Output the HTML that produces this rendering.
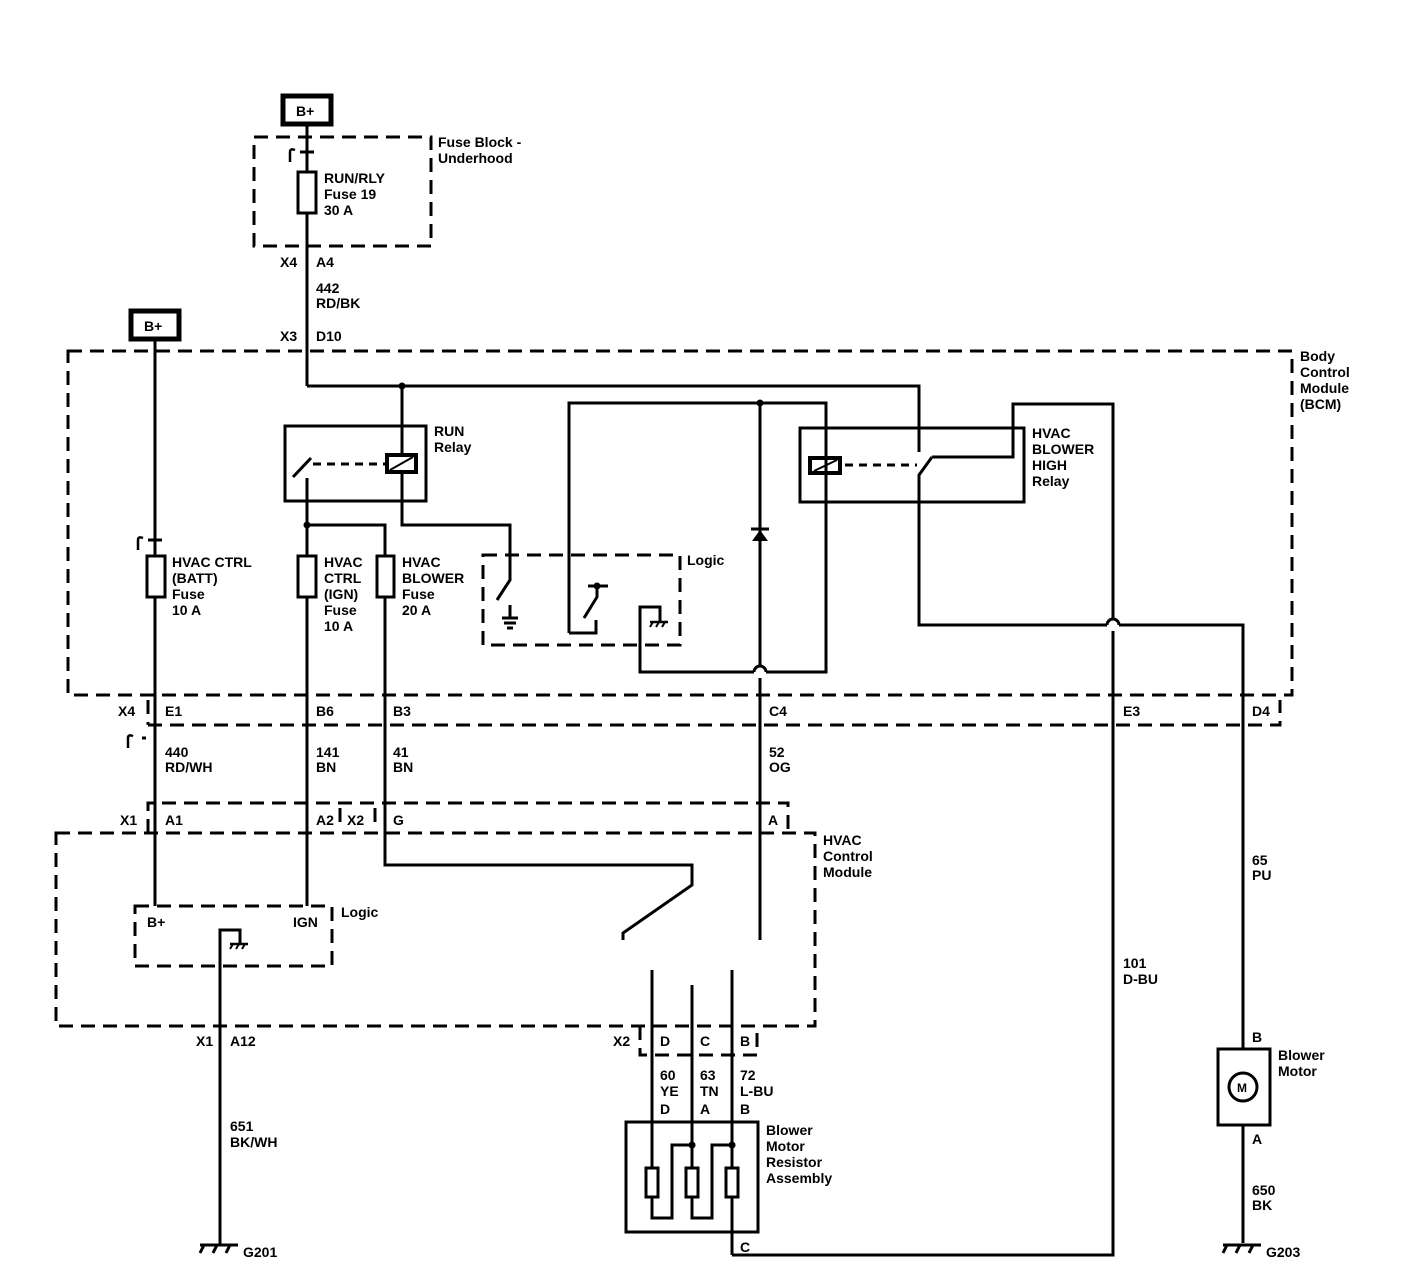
<!DOCTYPE html>
<html><head><meta charset="utf-8"><style>
html,body{margin:0;padding:0;background:#fff;}
svg{display:block;}
text{font-family:"Liberation Sans",Arial,sans-serif;font-size:14px;font-weight:bold;fill:#000;}
</style></head><body>
<svg width="1408" height="1280" viewBox="0 0 1408 1280" xmlns="http://www.w3.org/2000/svg">
<defs>
<g id="gnd"><line x1="-20" y1="0" x2="18" y2="0" stroke="#000" stroke-width="3"/>
<line x1="-16" y1="0" x2="-20" y2="8" stroke="#000" stroke-width="3"/>
<line x1="-3" y1="0" x2="-7" y2="8" stroke="#000" stroke-width="3"/>
<line x1="10" y1="0" x2="6" y2="8" stroke="#000" stroke-width="3"/></g>
<g id="cg"><line x1="-8" y1="0" x2="10" y2="0" stroke="#000" stroke-width="2.5"/>
<line x1="-5" y1="0" x2="-8" y2="5" stroke="#000" stroke-width="2"/>
<line x1="1" y1="0" x2="-2" y2="5" stroke="#000" stroke-width="2"/>
<line x1="7" y1="0" x2="4" y2="5" stroke="#000" stroke-width="2"/></g>
</defs>
<g fill="none" stroke="#000" stroke-width="3">
<rect x="283" y="96" width="48" height="28" stroke-width="5"/>
<rect x="131" y="311" width="48" height="28" stroke-width="5"/>
<g stroke-dasharray="14,8">
<rect x="254" y="137" width="177" height="109"/>
<rect x="68" y="351" width="1224" height="344"/>
<polyline points="148,725 1280,725 1280,700"/>
<line x1="148" y1="700" x2="148" y2="725"/>
<rect x="483" y="555" width="197" height="90"/>
<rect x="56" y="833" width="759" height="193"/>
<polyline points="148,833 148,803 788,803 788,833"/>
<line x1="340" y1="808" x2="340" y2="830"/>
<line x1="375" y1="808" x2="375" y2="830"/>
<rect x="135" y="906" width="197" height="60"/>
<polyline points="640,1026 640,1055 757,1055 757,1030"/>
</g>
<line x1="307" y1="124" x2="307" y2="386"/>
<path d="M290,162 L290,152 Q290,148 295,150" stroke-width="2.5"/>
<line x1="300" y1="152" x2="314" y2="152"/>
<rect x="298" y="172" width="18" height="41" fill="#fff"/>
<line x1="155" y1="339" x2="155" y2="906"/>
<path d="M138,550 L138,540 Q138,536 143,538" stroke-width="2.5"/>
<line x1="148" y1="540" x2="162" y2="540"/>
<rect x="147" y="556" width="18" height="41" fill="#fff"/>
<path d="M128,748 L128,738 Q128,734 133,736" stroke-width="2.5"/>
<line x1="142" y1="738" x2="146" y2="738"/>
<polyline points="307,386 919,386 919,452"/>
<polyline points="932,457 919,475 919,625 1107,625"/>
<polyline points="1119,625 1243,625 1243,1049"/>
<path d="M1107,625 A6,6 0 0 1 1119,625"/>
<rect x="285" y="426" width="141" height="75"/>
<line x1="293" y1="477" x2="311" y2="458"/>
<line x1="313" y1="464" x2="385" y2="464" stroke-dasharray="8,6"/>
<rect x="387" y="455" width="29" height="17" stroke-width="4"/>
<line x1="390" y1="470" x2="413" y2="457" stroke-width="2"/>
<line x1="402" y1="386" x2="402" y2="455"/>
<polyline points="402,472 402,525 510,525 510,580 497,600"/>
<polyline points="307,478 307,906"/>
<polyline points="307,525 385,525 385,865 692,865 692,885 623,933 623,940"/>
<rect x="298" y="556" width="18" height="41" fill="#fff"/>
<rect x="377" y="556" width="17" height="41" fill="#fff"/>
<line x1="510" y1="605" x2="510" y2="618"/>
<line x1="502" y1="618" x2="518" y2="618"/>
<line x1="504" y1="623" x2="516" y2="623"/>
<line x1="507" y1="628" x2="513" y2="628"/>
<polyline points="569,633 569,403 826,403 826,672 766,672"/>
<path d="M754,672 A6,6 0 0 1 766,672"/>
<polyline points="754,672 640,672 640,607 660,607 660,622"/>
<polyline points="569,633 596,633 596,620"/>
<polyline points="584,618 597,597 597,585"/>
<line x1="588" y1="586" x2="608" y2="586"/>
<line x1="760" y1="403" x2="760" y2="666"/>
<line x1="760" y1="678" x2="760" y2="940"/>
<rect x="800" y="428" width="224" height="74"/>
<rect x="810" y="458" width="30" height="15" stroke-width="4"/>
<line x1="814" y1="471" x2="837" y2="460" stroke-width="2"/>
<line x1="845" y1="465" x2="917" y2="465" stroke-dasharray="8,6"/>
<polyline points="932,457 1013,457 1013,404 1113,404 1113,619"/>
<polyline points="1113,631 1113,1255 732,1255"/>
<polyline points="220,1245 220,930 240,930 240,944"/>
<line x1="652" y1="970" x2="652" y2="1168"/>
<line x1="692" y1="985" x2="692" y2="1168"/>
<line x1="732" y1="970" x2="732" y2="1255"/>
<rect x="626" y="1122" width="132" height="110"/>
<rect x="646" y="1168" width="12" height="29" fill="#fff"/>
<rect x="686" y="1168" width="12" height="29" fill="#fff"/>
<rect x="726" y="1168" width="12" height="29" fill="#fff"/>
<polyline points="652,1197 652,1218 672,1218 672,1145 692,1145"/>
<polyline points="692,1197 692,1218 712,1218 712,1145 732,1145"/>
<rect x="1218" y="1049" width="52" height="76"/>
<circle cx="1243" cy="1087" r="14"/>
<line x1="1243" y1="1125" x2="1243" y2="1243"/>
</g>
<polygon points="752,541 768,541 760,530" fill="#000"/>
<line x1="751" y1="529" x2="769" y2="529" stroke="#000" stroke-width="3"/>
<g fill="#000"><circle cx="402" cy="386" r="3.5"/><circle cx="307" cy="525" r="3.5"/><circle cx="760" cy="403" r="3.5"/><circle cx="597" cy="586" r="3.5"/><circle cx="692" cy="1145" r="3.5"/><circle cx="732" cy="1145" r="3.5"/></g>
<use href="#cg" x="658" y="622"/>
<use href="#cg" x="238" y="944"/>
<use href="#gnd" x="220" y="1245"/>
<use href="#gnd" x="1243" y="1245"/>
<text x="296" y="116">B+</text>
<text x="144" y="331">B+</text>
<text x="438" y="147">Fuse Block -</text><text x="438" y="163">Underhood</text>
<text x="324" y="183">RUN/RLY</text><text x="324" y="199">Fuse 19</text><text x="324" y="215">30 A</text>
<text x="280" y="267">X4</text><text x="316" y="267">A4</text>
<text x="316" y="293">442</text><text x="316" y="308">RD/BK</text>
<text x="280" y="341">X3</text><text x="316" y="341">D10</text>
<text x="1300" y="361">Body</text><text x="1300" y="377">Control</text><text x="1300" y="393">Module</text><text x="1300" y="409">(BCM)</text>
<text x="434" y="436">RUN</text><text x="434" y="452">Relay</text>
<text x="1032" y="438">HVAC</text><text x="1032" y="454">BLOWER</text><text x="1032" y="470">HIGH</text><text x="1032" y="486">Relay</text>
<text x="172" y="567">HVAC CTRL</text><text x="172" y="583">(BATT)</text><text x="172" y="599">Fuse</text><text x="172" y="615">10 A</text>
<text x="324" y="567">HVAC</text><text x="324" y="583">CTRL</text><text x="324" y="599">(IGN)</text><text x="324" y="615">Fuse</text><text x="324" y="631">10 A</text>
<text x="402" y="567">HVAC</text><text x="402" y="583">BLOWER</text><text x="402" y="599">Fuse</text><text x="402" y="615">20 A</text>
<text x="687" y="565">Logic</text>
<text x="118" y="716">X4</text><text x="165" y="716">E1</text><text x="316" y="716">B6</text><text x="393" y="716">B3</text><text x="769" y="716">C4</text><text x="1123" y="716">E3</text><text x="1252" y="716">D4</text>
<text x="165" y="757">440</text><text x="165" y="772">RD/WH</text>
<text x="316" y="757">141</text><text x="316" y="772">BN</text>
<text x="393" y="757">41</text><text x="393" y="772">BN</text>
<text x="769" y="757">52</text><text x="769" y="772">OG</text>
<text x="120" y="825">X1</text><text x="165" y="825">A1</text><text x="316" y="825">A2</text><text x="347" y="825">X2</text><text x="393" y="825">G</text><text x="768" y="825">A</text>
<text x="823" y="845">HVAC</text><text x="823" y="861">Control</text><text x="823" y="877">Module</text>
<text x="1252" y="865">65</text><text x="1252" y="880">PU</text>
<text x="147" y="927">B+</text><text x="293" y="927">IGN</text><text x="341" y="917">Logic</text>
<text x="1123" y="968">101</text><text x="1123" y="984">D-BU</text>
<text x="196" y="1046">X1</text><text x="230" y="1046">A12</text>
<text x="613" y="1046">X2</text><text x="660" y="1046">D</text><text x="700" y="1046">C</text><text x="740" y="1046">B</text>
<text x="1252" y="1042">B</text>
<text x="1278" y="1060">Blower</text><text x="1278" y="1076">Motor</text>
<text x="1237" y="1092" style="font-size:12px">M</text>
<text x="660" y="1080">60</text><text x="660" y="1096">YE</text><text x="660" y="1114">D</text>
<text x="700" y="1080">63</text><text x="700" y="1096">TN</text><text x="700" y="1114">A</text>
<text x="740" y="1080">72</text><text x="740" y="1096">L-BU</text><text x="740" y="1114">B</text>
<text x="766" y="1135">Blower</text><text x="766" y="1151">Motor</text><text x="766" y="1167">Resistor</text><text x="766" y="1183">Assembly</text>
<text x="230" y="1131">651</text><text x="230" y="1147">BK/WH</text>
<text x="1252" y="1144">A</text>
<text x="1252" y="1195">650</text><text x="1252" y="1210">BK</text>
<text x="740" y="1252">C</text>
<text x="243" y="1257">G201</text><text x="1266" y="1257">G203</text>
</svg>
</body></html>
